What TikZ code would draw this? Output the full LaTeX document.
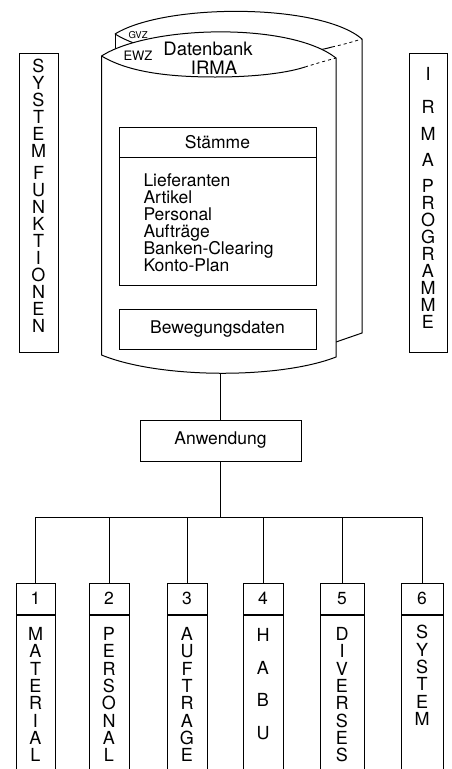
\documentclass[tikz,border=0pt]{standalone}
\usepackage{fontspec}
\setmainfont{TeX Gyre Heros}
\begin{document}
\begin{tikzpicture}[x=1pt,y=-1pt,line width=1pt,
  every node/.style={inner sep=0pt,font=\fontsize{17.5}{17}\selectfont},
  stack/.style={align=center,anchor=north,font=\fontsize{18}{17.3}\selectfont},
  hdr/.style={draw,minimum width=#1,minimum height=31pt},
  body/.style={draw,minimum width=#1,minimum height=158pt,anchor=north},
  faded/.style={dash pattern=on 3pt off 3pt,line width=0.8pt}]
\useasboundingbox (0,0) rectangle (452,769);

% side boxes
\node[draw,minimum width=39pt,minimum height=299pt] (sf) at (38.5,202.5) {};
\node[stack,font=\fontsize{18}{17}\selectfont] (sft) at (38.5,58.5) {S\\Y\\S\\T\\E\\M\\[5pt]F\\U\\N\\K\\T\\I\\O\\N\\E\\N};
\node[draw,minimum width=38pt,minimum height=299pt] (ip) at (428,202.5) {};
\node[stack,font=\fontsize{18}{17}\selectfont] (ipt) at (428,66.5) {I\\[16pt]R\\[10pt]M\\[9pt]A\\[9pt]P\\R\\O\\G\\R\\A\\M\\M\\E};

% back cylinder
\draw (115,34) .. controls (165,3) and (320,3) .. (362,39) -- (362,333) -- (336,342);
\draw (115,34) -- (115,60);
\draw (115,34) .. controls (138,48) and (173,56) .. (230,56) .. controls (280,56) and (315,52) .. (332,47);
\draw[faded] (332,47) .. controls (345,44) .. (362,39);
% front cylinder
\draw[fill=white] (101.5,56) .. controls (150,25) and (290,22) .. (336,58) -- (336,357)
   .. controls (280,379) and (160,379) .. (101.5,355) -- cycle;
\draw (101.5,56) .. controls (125,70) and (160,77) .. (215,77) .. controls (260,77) and (290,72) .. (305,67);
\draw[faded] (305,67) .. controls (318,63) .. (336,58);
\coordinate (cylbot) at (220.5,373);

\node[anchor=base west,font=\fontsize{9.5}{10}\selectfont] (gvz) at (128,38) {GVZ};
\node[anchor=base west,font=\fontsize{13}{13}\selectfont] (ewz) at (123,60) {EWZ};
\node[anchor=base,font=\fontsize{18.5}{19}\selectfont] (db1) at (208,55.5) {Datenbank};
\node[anchor=base,font=\fontsize{18.5}{19}\selectfont] (db2) at (214,74.5) {IRMA};

% Stämme
\node[draw,minimum width=197pt,minimum height=30pt] (sth) at (217.5,142) {Stämme};
\node[draw,minimum width=197pt,minimum height=128pt] (stb) at (217.5,221) {};
\node[align=left,anchor=north west] (stl) at (143,173.5)
  {Lieferanten\\Artikel\\Personal\\Aufträge\\Banken-Clearing\\Konto-Plan};

\node[draw,minimum width=197pt,minimum height=40pt] (bew) at (217.5,329) {Bewegungsdaten};

\node[draw,minimum width=161pt,minimum height=41pt] (anw) at (220.5,440.5) {Anwendung};
\draw (cylbot) -- (anw.north);

% application boxes
\node[hdr=39pt] (h1) at (35.5,598.5) {1};
\node[hdr=40pt] (h2) at (109,598.5) {2};
\node[hdr=40pt] (h3) at (187,598.5) {3};
\node[hdr=40pt] (h4) at (263,598.5) {4};
\node[hdr=44pt] (h5) at (342,598.5) {5};
\node[hdr=42pt] (h6) at (422,598.5) {6};
\node[body=39pt] (b1) at (h1.south) {};
\node[body=40pt] (b2) at (h2.south) {};
\node[body=40pt] (b3) at (h3.south) {};
\node[body=40pt] (b4) at (h4.south) {};
\node[body=44pt] (b5) at (h5.south) {};
\node[body=42pt] (b6) at (h6.south) {};

\node[stack] (t1) at (35.5,627) {M\\A\\T\\E\\R\\I\\A\\L};
\node[stack] (t2) at (109,627) {P\\E\\R\\S\\O\\N\\A\\L};
\node[stack] (t3) at (187,627) {A\\U\\F\\T\\R\\A\\G\\E};
\node[stack,font=\fontsize{18}{17}\selectfont] (t4) at (263,628) {H\\[15.5pt]A\\[15.5pt]B\\[15.5pt]U};
\node[stack] (t5) at (342,627) {D\\I\\V\\E\\R\\S\\E\\S};
\node[stack] (t6) at (422,625) {S\\Y\\S\\T\\E\\M};

% connectors
\coordinate (bus) at (0,517);
\draw (h1.north) |- (bus -| h6.north) -- (h6.north);
\draw (anw.south) -- (anw.south |- bus);
\foreach \i in {2,...,5} {\draw (h\i.north) -- (h\i.north |- bus);}
\end{tikzpicture}
\end{document}
